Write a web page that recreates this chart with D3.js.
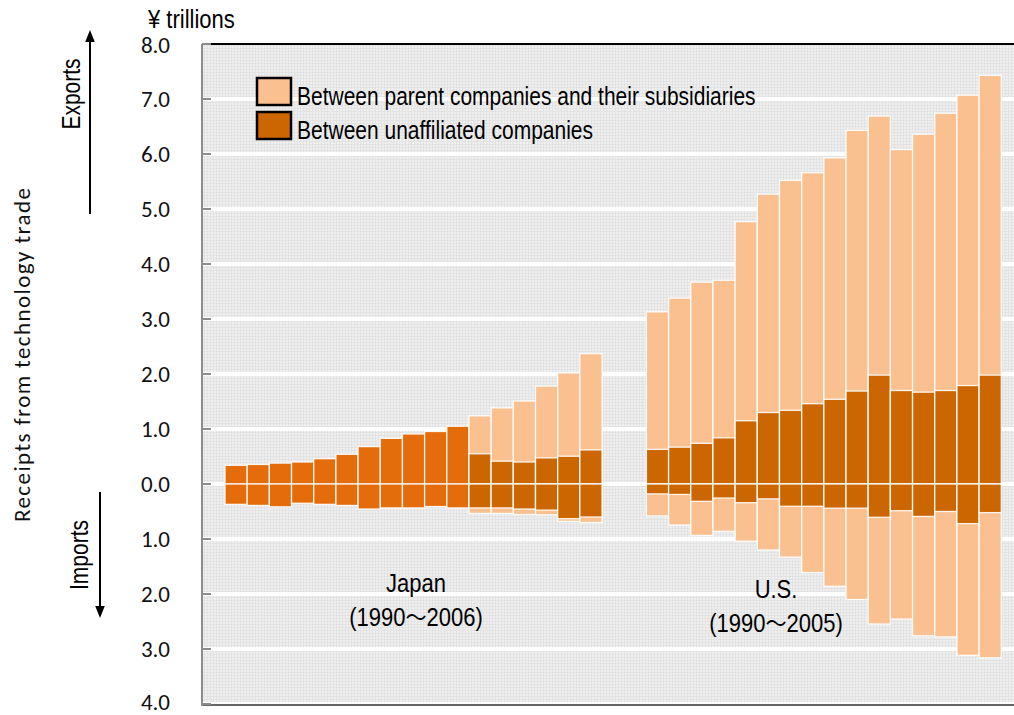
<!DOCTYPE html>
<html><head><meta charset="utf-8">
<script src="https://cdn.jsdelivr.net/npm/d3@7"></script>
<style>
body{margin:0;background:#fff;}
svg{display:block;}
</style></head>
<body>
<svg id="chart" width="1014" height="715"></svg>
<script>
// ---- data (¥ trillions) ----
const japanYears = d3.range(1990, 2007);
const usYears = d3.range(1990, 2006);
// Japan: 1990-2000 only totals available (single colour), 2001-2006 split
const japanExportsTotal = [0.34,0.355,0.38,0.40,0.46,0.54,0.68,0.83,0.91,0.955,1.05,1.24,1.385,1.51,1.78,2.02,2.37];
const japanExportsUnaffiliated = [null,null,null,null,null,null,null,null,null,null,null,0.55,0.415,0.40,0.475,0.505,0.62];
const japanImportsTotal = [0.37,0.39,0.415,0.35,0.37,0.39,0.455,0.435,0.435,0.41,0.435,0.535,0.535,0.555,0.56,0.68,0.70];
const japanImportsUnaffiliated = [null,null,null,null,null,null,null,null,null,null,null,0.435,0.435,0.455,0.475,0.63,0.60];
const usExportsTotal = [3.13,3.38,3.67,3.705,4.77,5.27,5.52,5.66,5.93,6.43,6.69,6.08,6.36,6.74,7.07,7.43];
const usExportsUnaffiliated = [0.63,0.67,0.74,0.84,1.15,1.30,1.34,1.46,1.54,1.69,1.98,1.70,1.67,1.70,1.79,1.98];
const usImportsTotal = [0.58,0.745,0.935,0.86,1.04,1.20,1.33,1.61,1.86,2.10,2.545,2.455,2.76,2.78,3.115,3.16];
const usImportsUnaffiliated = [0.18,0.19,0.315,0.255,0.34,0.27,0.405,0.405,0.44,0.44,0.605,0.485,0.59,0.50,0.72,0.52];
const yTicks = [8,7,6,5,4,3,2,1,0,-1,-2,-3,-4];
const seriesNames = ["Between parent companies and their subsidiaries","Between unaffiliated companies"];

// ---- layout ----
const svg = d3.select("#chart");
const plotL = 202, plotR = 1014, plotT = 44, plotB = 704;
const y = d3.scaleLinear().domain([-4, 8]).range([plotB, plotT]);
// slots: Japan 0..16, gap 17-18, US 19..34
const slots = d3.range(35);
const x = d3.scaleBand().domain(slots).range([225, 1001.3]).padding(0);
const cLight = "#FAC090", cDark = "#CC6600", cJapanOld = "#E46C0A";

const defs = svg.append("defs");
const pat = defs.append("pattern").attr("id","bgpat").attr("width",3).attr("height",3).attr("patternUnits","userSpaceOnUse");
pat.append("rect").attr("width",3).attr("height",3).attr("fill","#efefef");
pat.append("rect").attr("width",3).attr("height",1).attr("fill","#e3e3e3");
pat.append("rect").attr("width",1).attr("height",3).attr("fill","#e3e3e3");

svg.append("rect").attr("x",plotL).attr("y",plotT).attr("width",plotR-plotL).attr("height",plotB-plotT).attr("fill","url(#bgpat)");

// gridlines
svg.append("g").selectAll("line").data(yTicks.filter(t=>t<8)).join("line")
  .attr("x1",plotL).attr("x2",plotR).attr("y1",d=>y(d)).attr("y2",d=>y(d))
  .attr("stroke","#fff").attr("stroke-width",4);

// bars
const bars = svg.append("g");
function drawBar(slot, top, bottom, fill){
  const y0 = Math.min(y(top), y(bottom)), y1 = Math.max(y(top), y(bottom));
  bars.append("rect").attr("x",x(slot)).attr("width",x.bandwidth())
    .attr("y",y0).attr("height",y1-y0).attr("fill",fill)
    .attr("stroke","#fff").attr("stroke-width",1.3).attr("stroke-opacity",0.9);
}
japanYears.forEach((yr,i)=>{
  const s = i;
  if (japanExportsUnaffiliated[i] == null){
    drawBar(s, japanExportsTotal[i], 0, cJapanOld);
    drawBar(s, 0, -japanImportsTotal[i], cJapanOld);
  } else {
    drawBar(s, japanExportsTotal[i], 0, cLight);
    drawBar(s, japanExportsUnaffiliated[i], 0, cDark);
    drawBar(s, 0, -japanImportsTotal[i], cLight);
    drawBar(s, 0, -japanImportsUnaffiliated[i], cDark);
  }
});
usYears.forEach((yr,i)=>{
  const s = 19 + i;
  drawBar(s, usExportsTotal[i], 0, cLight);
  drawBar(s, usExportsUnaffiliated[i], 0, cDark);
  drawBar(s, 0, -usImportsTotal[i], cLight);
  drawBar(s, 0, -usImportsUnaffiliated[i], cDark);
});

// axes lines
svg.append("line").attr("x1",plotL).attr("x2",plotR).attr("y1",plotT).attr("y2",plotT).attr("stroke","#000").attr("stroke-width",2);
svg.append("line").attr("x1",plotL).attr("x2",plotR).attr("y1",plotB+1).attr("y2",plotB+1).attr("stroke","#666").attr("stroke-width",2);
svg.append("line").attr("x1",plotL).attr("x2",plotL).attr("y1",plotT).attr("y2",plotB+2).attr("stroke","#8c8c8c").attr("stroke-width",2);
svg.append("g").selectAll("line").data(yTicks).join("line")
  .attr("x1",plotL).attr("x2",plotL+9).attr("y1",d=>y(d)).attr("y2",d=>y(d))
  .attr("stroke","#8c8c8c").attr("stroke-width",2);

// tick labels
const tickFont = "Carlito, Lato, 'Open Sans', sans-serif";
svg.append("g").selectAll("text").data(yTicks).join("text")
  .attr("x",170).attr("y",d=>y(d) - (d===-4 ? 2 : 0) + (d===8 ? 1 : 0)).attr("dy","0.33em").attr("text-anchor","end")
  .attr("font-family",tickFont).attr("font-size",23).attr("fill","#111")
  .text(d=>Math.abs(d).toFixed(1));

// condensed sans text helper (Arial-Narrow look via horizontal scaling)
const sans = "'Liberation Sans','Arial',sans-serif";
function narrowText(parent, tx, ty, rot, txt, size, sx, anchor){
  const g = parent.append("g").attr("transform", `translate(${tx},${ty}) rotate(${rot}) scale(${sx},1)`);
  return g.append("text").attr("x",0).attr("y",0).attr("text-anchor",anchor||"start")
    .attr("font-family",sans).attr("font-size",size).attr("fill","#000").text(txt);
}

narrowText(svg, 148, 28, 0, "¥ trillions", 25, 0.88);

// y title
svg.append("text").attr("transform","translate(30,355) rotate(-90)").attr("text-anchor","middle")
  .attr("font-family",tickFont).attr("font-size",23).attr("fill","#111")
  .attr("textLength",334).attr("lengthAdjust","spacing").text("Receipts from technology trade");

// exports / imports with arrows
defs.append("marker").attr("id","arr").attr("viewBox","0 0 10 10").attr("refX",5).attr("refY",5)
  .attr("markerWidth",6).attr("markerHeight",8).attr("orient","auto-start-reverse")
  .append("path").attr("d","M0,1 L10,5 L0,9 Z").attr("fill","#000");
svg.append("line").attr("x1",90).attr("x2",90).attr("y1",214).attr("y2",36).attr("stroke","#000").attr("stroke-width",2).attr("marker-end","url(#arr)");
svg.append("line").attr("x1",100).attr("x2",100).attr("y1",492).attr("y2",612).attr("stroke","#000").attr("stroke-width",2).attr("marker-end","url(#arr)");
narrowText(svg, 80, 94, -90, "Exports", 25, 0.84, "middle");
narrowText(svg, 88, 555, -90, "Imports", 25, 0.84, "middle");

// legend
const leg = svg.append("g");
[cLight, cDark].forEach((c,i)=>{
  leg.append("rect").attr("x",257).attr("y",78+i*34).attr("width",34).attr("height",27)
    .attr("fill",c).attr("stroke","#000").attr("stroke-width",2.5);
  narrowText(leg, 297, 105+i*34, 0, seriesNames[i], 25, 0.84);
});

// country labels
const cjk = "'Noto Sans CJK JP',sans-serif";
function country(cx, y1, t1, a, b){
  narrowText(svg, cx, y1, 0, t1, 25, 0.88, "middle");
  const t = narrowText(svg, cx, y1+34, 0, "", 25, 0.88, "middle");
  t.append("tspan").text(a);
  t.append("tspan").attr("font-family",cjk).attr("font-size",24).text("～");
  t.append("tspan").text(b);
}
country(416, 592, "Japan", "(1990", "2006)");
country(776, 598, "U.S.", "(1990", "2005)");
</script>
</body></html>
